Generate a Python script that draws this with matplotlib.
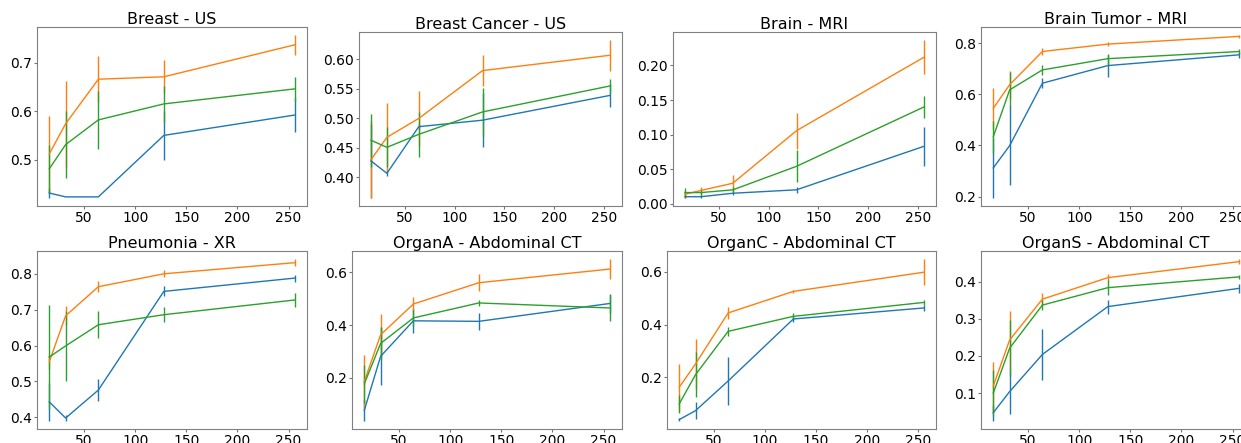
import matplotlib
matplotlib.use("Agg")
import matplotlib.pyplot as plt

W, H = 1241, 443

x_shots = [16, 32, 64, 128, 256]

titles = ["Breast - US", "Breast Cancer - US", "Brain - MRI", "Brain Tumor - MRI",
          "Pneumonia - XR", "OrganA - Abdominal CT", "OrganC - Abdominal CT", "OrganS - Abdominal CT"]

# each dataset: blue, orange, green means and errors
blue_mean = [
    [0.431, 0.423, 0.423, 0.550, 0.592],
    [0.428, 0.407, 0.486, 0.497, 0.539],
    [0.010, 0.010, 0.015, 0.020, 0.083],
    [0.312, 0.399, 0.643, 0.712, 0.754],
    [0.443, 0.398, 0.476, 0.751, 0.788],
    [0.075, 0.281, 0.416, 0.414, 0.482],
    [0.038, 0.072, 0.185, 0.421, 0.463],
    [0.047, 0.104, 0.204, 0.333, 0.382],
]
blue_err = [
    [0.010, 0.0, 0.0, 0.050, 0.035],
    [0.063, 0.005, 0.004, 0.046, 0.020],
    [0.002, 0.002, 0.002, 0.004, 0.028],
    [0.117, 0.155, 0.020, 0.043, 0.012],
    [0.052, 0.008, 0.030, 0.014, 0.010],
    [0.040, 0.110, 0.048, 0.033, 0.036],
    [0.005, 0.033, 0.092, 0.010, 0.012],
    [0.022, 0.060, 0.069, 0.019, 0.012],
]
orange_mean = [
    [0.512, 0.574, 0.666, 0.671, 0.737],
    [0.430, 0.468, 0.500, 0.581, 0.607],
    [0.0136, 0.019, 0.0295, 0.1056, 0.212],
    [0.545, 0.637, 0.767, 0.796, 0.826],
    [0.555, 0.683, 0.764, 0.800, 0.831],
    [0.185, 0.363, 0.480, 0.561, 0.613],
    [0.161, 0.250, 0.444, 0.526, 0.599],
    [0.119, 0.243, 0.353, 0.411, 0.454],
]
orange_err = [
    [0.079, 0.089, 0.048, 0.034, 0.020],
    [0.065, 0.058, 0.046, 0.026, 0.026],
    [0.005, 0.005, 0.012, 0.026, 0.025],
    [0.080, 0.054, 0.012, 0.008, 0.005],
    [0.020, 0.026, 0.016, 0.010, 0.010],
    [0.100, 0.080, 0.025, 0.033, 0.038],
    [0.090, 0.095, 0.024, 0.005, 0.050],
    [0.066, 0.077, 0.016, 0.010, 0.007],
]
green_mean = [
    [0.481, 0.531, 0.582, 0.615, 0.646],
    [0.463, 0.451, 0.473, 0.511, 0.555],
    [0.016, 0.016, 0.0199, 0.054, 0.140],
    [0.434, 0.617, 0.695, 0.739, 0.767],
    [0.568, 0.599, 0.658, 0.686, 0.727],
    [0.176, 0.330, 0.427, 0.484, 0.465],
    [0.098, 0.209, 0.374, 0.431, 0.484],
    [0.100, 0.221, 0.337, 0.384, 0.413],
]
green_err = [
    [0.050, 0.070, 0.060, 0.038, 0.024],
    [0.045, 0.034, 0.038, 0.040, 0.012],
    [0.006, 0.005, 0.004, 0.023, 0.016],
    [0.062, 0.068, 0.018, 0.020, 0.010],
    [0.145, 0.098, 0.038, 0.021, 0.020],
    [0.072, 0.063, 0.030, 0.012, 0.050],
    [0.035, 0.085, 0.018, 0.012, 0.010],
    [0.062, 0.075, 0.014, 0.021, 0.006],
]

# axes boxes in pixels: left, right, top, bottom
boxes = [
    (37, 307, 27, 206), (359, 622, 32, 206), (673, 936, 32, 206), (981, 1251, 27, 206),
    (37, 307, 251, 429), (352, 622, 251, 429), (667, 936, 251, 429), (981, 1251, 251, 429),
]

fig = plt.figure(figsize=(W / 100, H / 100), dpi=100)

series = [
    (blue_mean, blue_err, "#1f77b4"),
    (orange_mean, orange_err, "#ff7f0e"),
    (green_mean, green_err, "#2ca02c"),
]

for i, (l, r, t, b) in enumerate(boxes):
    ax = fig.add_axes([l / W, 1 - b / H, (r - l) / W, (b - t) / H])
    for means, errs, col in series:
        ax.errorbar(x_shots, means[i], yerr=errs[i], color=col, lw=1.0,
                    elinewidth=1.0, capsize=0)
    ax.set_title(titles[i], fontsize=11.5, pad=2.5)
    ax.set_xticks([50, 100, 150, 200, 250])
    ax.tick_params(labelsize=10, color="0.45", length=2, width=0.8, pad=1.5)
    for s in ax.spines.values():
        s.set_color("0.5")
        s.set_linewidth(0.8)

fig.savefig("out.png", dpi=100)
